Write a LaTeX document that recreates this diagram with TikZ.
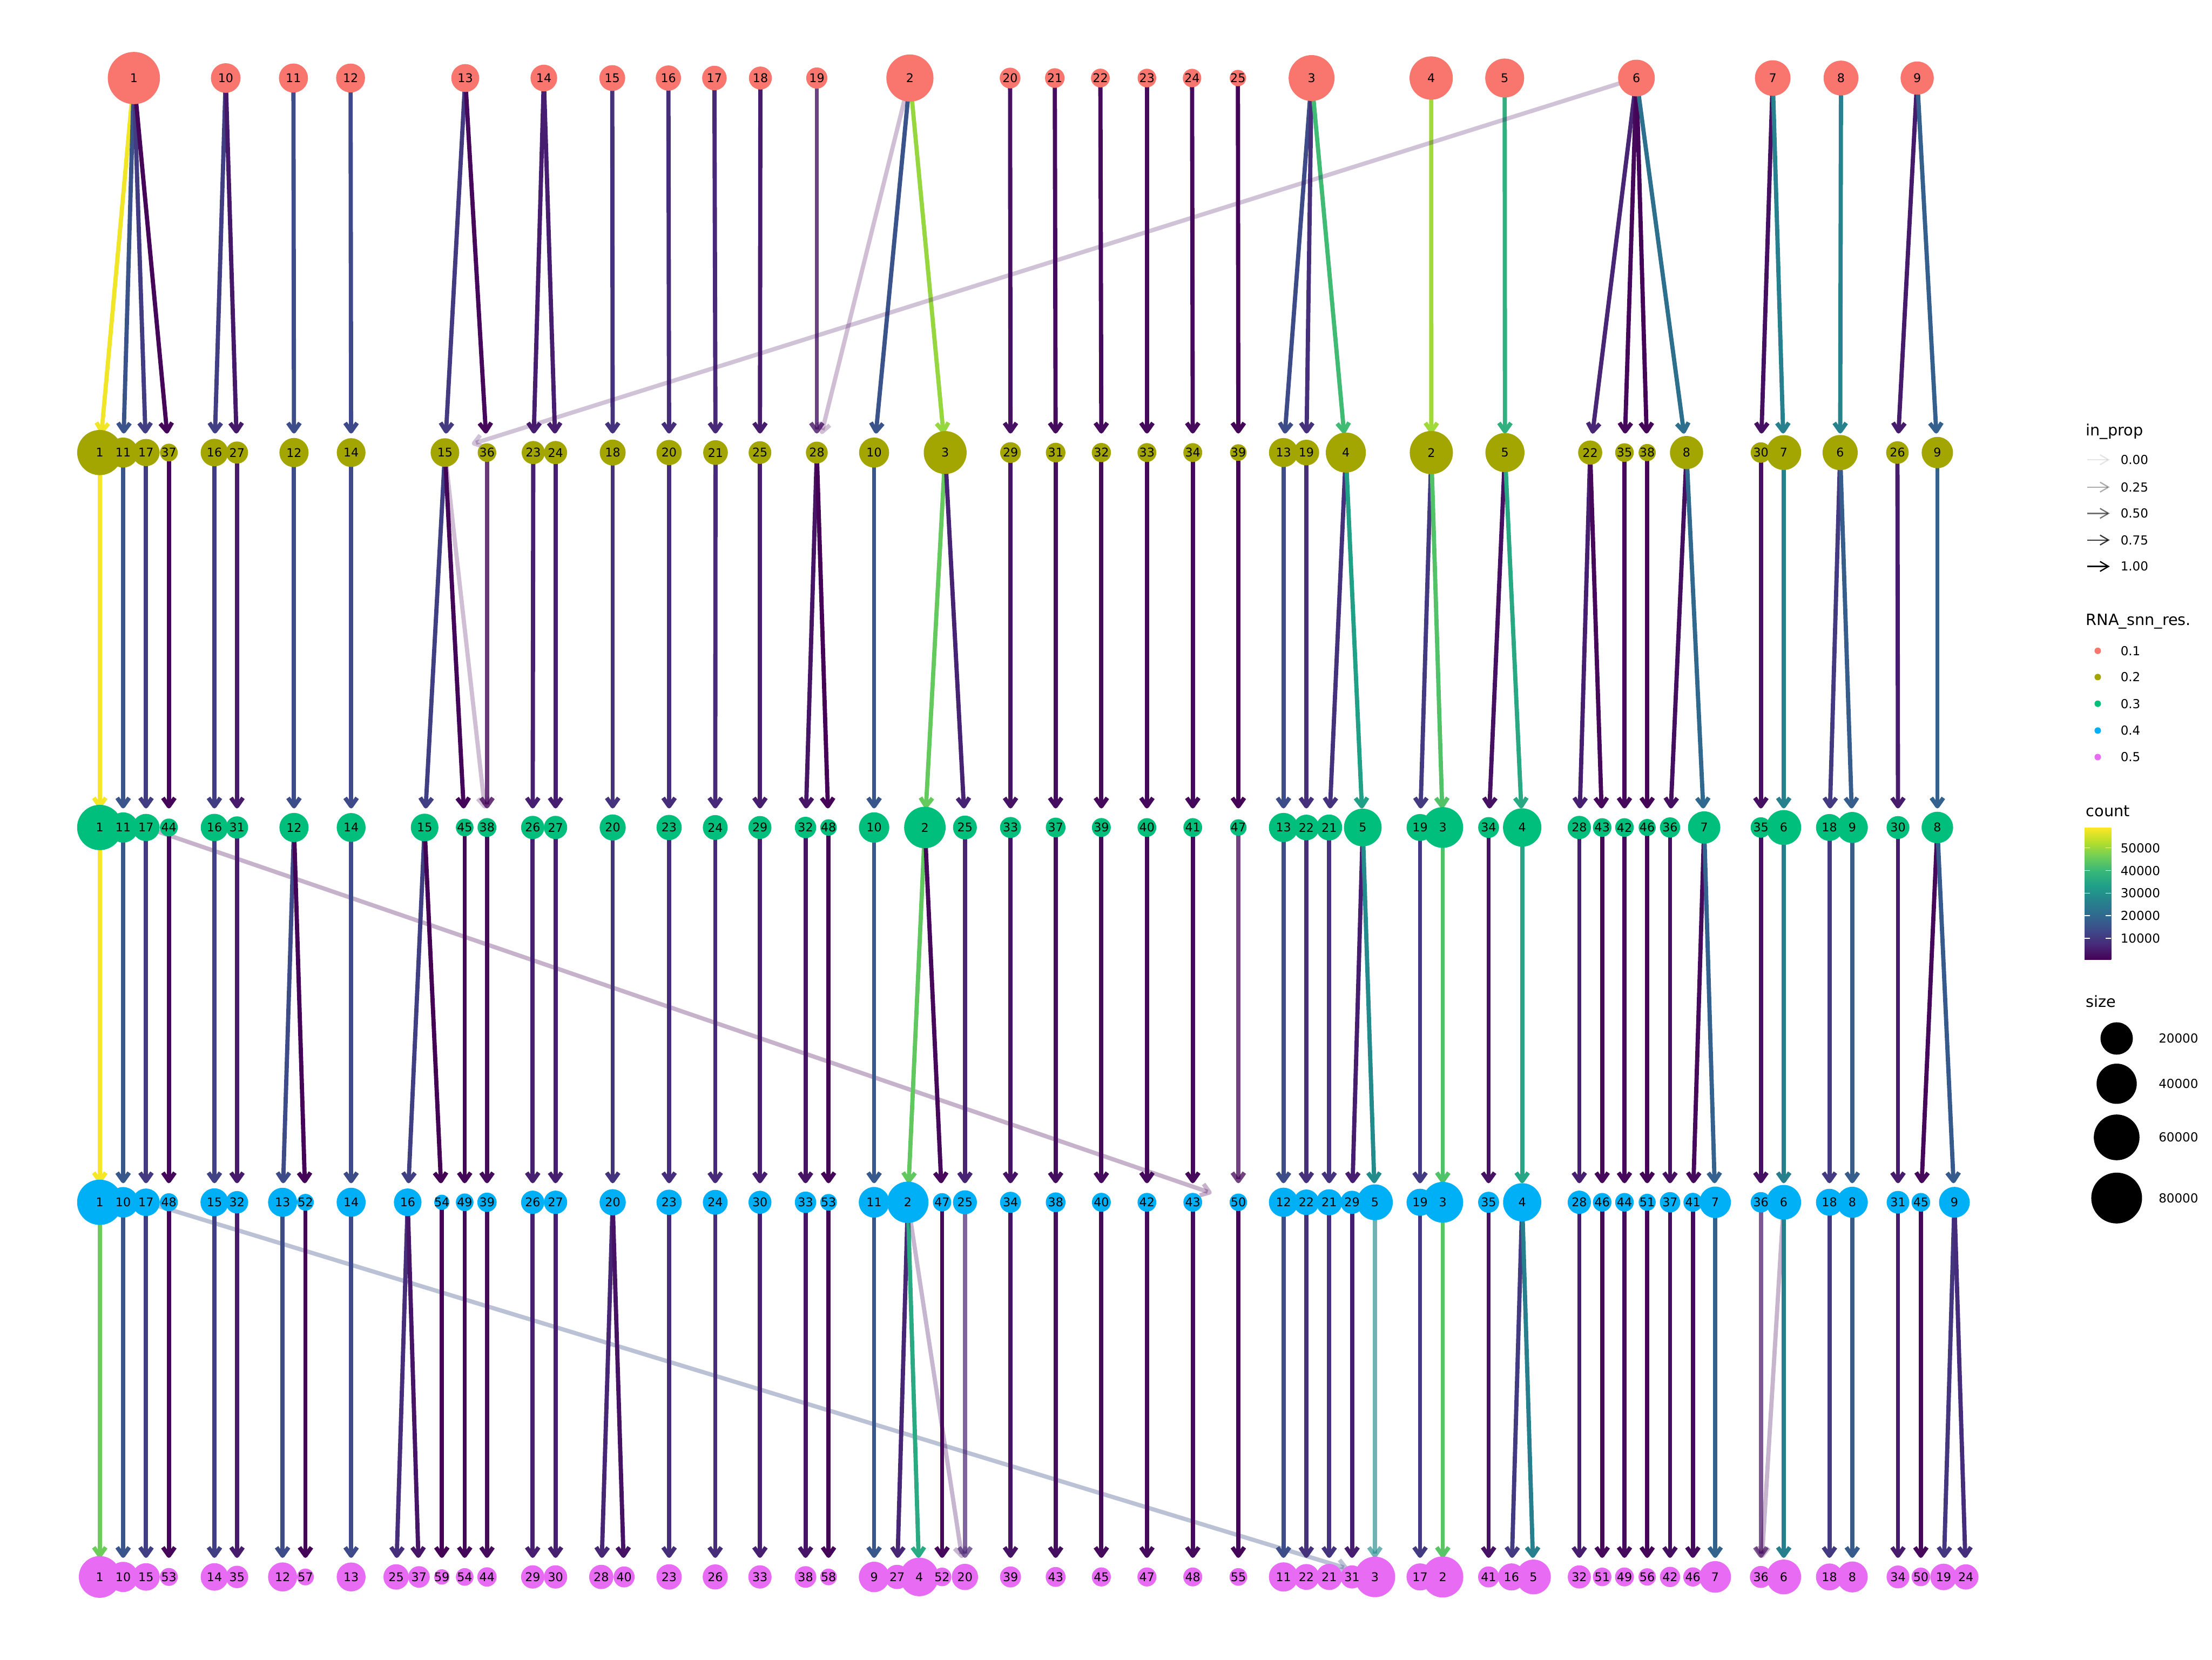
\documentclass[tikz,border=0pt]{standalone}
\usepackage{fontspec}
\setmainfont{DejaVu Sans}
\usetikzlibrary{arrows.meta}
\pgfdeclarelayer{background}
\pgfdeclarelayer{fills}
\pgfsetlayers{background,fills,main}

% viridis
\definecolor{v0}{HTML}{440154}
\definecolor{v1}{HTML}{482878}
\definecolor{v2}{HTML}{3E4A89}
\definecolor{v3}{HTML}{31688E}
\definecolor{v4}{HTML}{26828E}
\definecolor{v5}{HTML}{1F9E89}
\definecolor{v6}{HTML}{35B779}
\definecolor{v7}{HTML}{6DCD59}
\definecolor{v8}{HTML}{B4DE2C}
\definecolor{v9}{HTML}{FDE725}
% resolutions
\definecolor{res1}{HTML}{F8766D}
\definecolor{res2}{HTML}{A3A500}
\definecolor{res3}{HTML}{00BF7D}
\definecolor{res4}{HTML}{00B0F6}
\definecolor{res5}{HTML}{E76BF3}

\pgfdeclareverticalshading{viridisbar}{100bp}{color(0bp)=(v0); color(25bp)=(v0); color(30.56bp)=(v1); color(36.11bp)=(v2); color(41.67bp)=(v3); color(47.22bp)=(v4); color(52.78bp)=(v5); color(58.33bp)=(v6); color(63.89bp)=(v7); color(69.44bp)=(v8); color(75bp)=(v9); color(100bp)=(v9)}

\tikzset{
  lbl/.style={inner sep=0pt, font=\fontsize{8.5}{8.5}\selectfont},
  flow/.style={line width=3pt, -{Straight Barb[length=6pt,width=8.5pt,line join=round]}, shorten >=13.5pt},
  cnt/.style={/utils/exec={%
      \pgfmathsetmacro\vt{max(0,min(8.999,(#1-0.44)/6.4956))}%
      \pgfmathtruncatemacro\vk{\vt}%
      \pgfmathtruncatemacro\vf{round(100*(\vt-\vk))}%
      \pgfmathtruncatemacro\vn{\vk+1}%
      \colorlet{ecol}{v\vn!\vf!v\vk}},
    draw=ecol},
  ttl/.style={anchor=west, inner sep=0pt, font=\fontsize{11}{11}\selectfont},
  txt/.style={anchor=west, inner sep=0pt, font=\fontsize{8.8}{8.8}\selectfont},
  keyarrow/.style={line width=0.9pt, -{Straight Barb[length=6pt,width=7pt]}}
}

% circle on the fill layer, named label on top
\newcommand*{\cl}[6]{%
  \begin{pgfonlayer}{fills}\fill[#1] (#3,#4) circle[radius={#5pt/2}];\end{pgfonlayer}%
  \node[lbl] (#2) at (#3,#4) {#6};}

\begin{document}
\begin{tikzpicture}[x=1pt, y=-1pt]
\useasboundingbox (0,0) rectangle (1568,1176);

%Row 0.1
\cl{res1}{a1}{94.9}{55.3}{37}{1}
\cl{res1}{a10}{160}{55.3}{21}{10}
\cl{res1}{a11}{208}{55.3}{20.6}{11}
\cl{res1}{a12}{248.5}{55.3}{20.5}{12}
\cl{res1}{a13}{329.8}{55.3}{19.8}{13}
\cl{res1}{a14}{385.5}{55.3}{18.9}{14}
\cl{res1}{a15}{434}{55.3}{18.3}{15}
\cl{res1}{a16}{473.8}{55.3}{17.9}{16}
\cl{res1}{a17}{506.4}{55.3}{17.4}{17}
\cl{res1}{a18}{539}{55.3}{16.3}{18}
\cl{res1}{a19}{579}{55.3}{15}{19}
\cl{res1}{a2}{645}{55.3}{33.4}{2}
\cl{res1}{a20}{716}{55.3}{14.7}{20}
\cl{res1}{a21}{747.7}{55.3}{13.9}{21}
\cl{res1}{a22}{780}{55.3}{13.3}{22}
\cl{res1}{a23}{813}{55.3}{13.2}{23}
\cl{res1}{a24}{845}{55.3}{13.1}{24}
\cl{res1}{a25}{877.5}{55.3}{11.6}{25}
\cl{res1}{a3}{929.7}{55.3}{32.5}{3}
\cl{res1}{a4}{1014.5}{55.3}{30.7}{4}
\cl{res1}{a5}{1066.6}{55.3}{27.6}{5}
\cl{res1}{a6}{1160}{55.3}{26}{6}
\cl{res1}{a7}{1256.6}{55.3}{25.2}{7}
\cl{res1}{a8}{1305}{55.3}{24.7}{8}
\cl{res1}{a9}{1359}{55.3}{23.5}{9}

%Row 0.2
\cl{res2}{b1}{70.7}{320.7}{32}{1}
\cl{res2}{b11}{87.3}{320.7}{21.3}{11}
\cl{res2}{b17}{103.5}{320.7}{19.3}{17}
\cl{res2}{b37}{119.7}{320.7}{12.6}{37}
\cl{res2}{b16}{152}{320.7}{19.5}{16}
\cl{res2}{b27}{168}{320.7}{15.7}{27}
\cl{res2}{b12}{208.4}{320.7}{20.7}{12}
\cl{res2}{b14}{248.9}{320.7}{20.4}{14}
\cl{res2}{b15}{315.4}{320.7}{20.3}{15}
\cl{res2}{b36}{345.2}{320.7}{13.2}{36}
\cl{res2}{b23}{378}{320.7}{16.4}{23}
\cl{res2}{b24}{393.8}{320.7}{16.4}{24}
\cl{res2}{b18}{434.3}{320.7}{18.4}{18}
\cl{res2}{b20}{474.3}{320.7}{17.9}{20}
\cl{res2}{b21}{507.2}{320.7}{17.5}{21}
\cl{res2}{b25}{538.7}{320.7}{16.1}{25}
\cl{res2}{b28}{579}{320.7}{15.5}{28}
\cl{res2}{b10}{619.6}{320.7}{21.3}{10}
\cl{res2}{b3}{670}{320.7}{30.4}{3}
\cl{res2}{b29}{716.3}{320.7}{14.7}{29}
\cl{res2}{b31}{748.3}{320.7}{13.9}{31}
\cl{res2}{b32}{780.7}{320.7}{13.6}{32}
\cl{res2}{b33}{813}{320.7}{13.4}{33}
\cl{res2}{b34}{845.5}{320.7}{13.4}{34}
\cl{res2}{b39}{877.8}{320.7}{11.8}{39}
\cl{res2}{b13}{909.8}{320.7}{20.6}{13}
\cl{res2}{b19}{926}{320.7}{18.2}{19}
\cl{res2}{b4}{954}{320.7}{28.4}{4}
\cl{res2}{b2}{1014.6}{320.7}{30.6}{2}
\cl{res2}{b5}{1066.8}{320.7}{27.7}{5}
\cl{res2}{b22}{1127.2}{320.7}{17.1}{22}
\cl{res2}{b35}{1151.5}{320.7}{13.2}{35}
\cl{res2}{b38}{1167.6}{320.7}{12.2}{38}
\cl{res2}{b8}{1195.5}{320.7}{23.5}{8}
\cl{res2}{b30}{1248.2}{320.7}{14.5}{30}
\cl{res2}{b7}{1264.4}{320.7}{24.7}{7}
\cl{res2}{b6}{1304.4}{320.7}{24.9}{6}
\cl{res2}{b26}{1345}{320.7}{16}{26}
\cl{res2}{b9}{1373.3}{320.7}{22.2}{9}

%Row 0.3
\cl{res3}{c1}{70.7}{586.4}{32.1}{1}
\cl{res3}{c11}{87.3}{586.4}{21.4}{11}
\cl{res3}{c17}{103.5}{586.4}{19.3}{17}
\cl{res3}{c44}{119.7}{586.4}{12.7}{44}
\cl{res3}{c16}{152}{586.4}{19.4}{16}
\cl{res3}{c31}{168}{586.4}{15.8}{31}
\cl{res3}{c12}{208.4}{586.4}{20.7}{12}
\cl{res3}{c14}{248.9}{586.4}{20.5}{14}
\cl{res3}{c15}{301}{586.4}{19.6}{15}
\cl{res3}{c45}{329.4}{586.4}{12.5}{45}
\cl{res3}{c38}{345.2}{586.4}{13.4}{38}
\cl{res3}{c26}{377.6}{586.4}{16.5}{26}
\cl{res3}{c27}{393.8}{586.4}{16.5}{27}
\cl{res3}{c20}{434.3}{586.4}{18.5}{20}
\cl{res3}{c23}{474.3}{586.4}{17.9}{23}
\cl{res3}{c24}{507}{586.4}{17.6}{24}
\cl{res3}{c29}{538.7}{586.4}{16.3}{29}
\cl{res3}{c32}{571}{586.4}{15.2}{32}
\cl{res3}{c48}{587.3}{586.4}{11.7}{48}
\cl{res3}{c10}{619.6}{586.4}{21.5}{10}
\cl{res3}{c2}{655.6}{586.4}{29.4}{2}
\cl{res3}{c25}{684}{586.4}{16.9}{25}
\cl{res3}{c33}{716.3}{586.4}{14.9}{33}
\cl{res3}{c37}{748.3}{586.4}{14}{37}
\cl{res3}{c39}{780.7}{586.4}{13.4}{39}
\cl{res3}{c40}{813}{586.4}{13.3}{40}
\cl{res3}{c41}{845.5}{586.4}{13.3}{41}
\cl{res3}{c47}{877.8}{586.4}{11.7}{47}
\cl{res3}{c13}{909.8}{586.4}{20.7}{13}
\cl{res3}{c22}{926}{586.4}{18.2}{22}
\cl{res3}{c21}{942.2}{586.4}{18.4}{21}
\cl{res3}{c5}{966}{586.4}{26.7}{5}
\cl{res3}{c19}{1006.6}{586.4}{19.1}{19}
\cl{res3}{c3}{1022.7}{586.4}{28.9}{3}
\cl{res3}{c34}{1055.2}{586.4}{14.8}{34}
\cl{res3}{c4}{1079}{586.4}{27.2}{4}
\cl{res3}{c28}{1119.5}{586.4}{16.5}{28}
\cl{res3}{c43}{1135.7}{586.4}{13.2}{43}
\cl{res3}{c42}{1151.5}{586.4}{13.2}{42}
\cl{res3}{c46}{1167.6}{586.4}{12.1}{46}
\cl{res3}{c36}{1183.8}{586.4}{14.4}{36}
\cl{res3}{c7}{1208}{586.4}{22.9}{7}
\cl{res3}{c35}{1248.2}{586.4}{14.5}{35}
\cl{res3}{c6}{1264.4}{586.4}{24.7}{6}
\cl{res3}{c18}{1296.8}{586.4}{19.1}{18}
\cl{res3}{c9}{1313}{586.4}{22}{9}
\cl{res3}{c30}{1345.4}{586.4}{16.2}{30}
\cl{res3}{c8}{1373.3}{586.4}{22.3}{8}

%Row 0.4
\cl{res4}{d1}{70.7}{852}{32.1}{1}
\cl{res4}{d10}{87.3}{852}{21.6}{10}
\cl{res4}{d17}{103.5}{852}{19.5}{17}
\cl{res4}{d48}{119.7}{852}{12.8}{48}
\cl{res4}{d15}{152}{852}{19.8}{15}
\cl{res4}{d32}{168}{852}{15.9}{32}
\cl{res4}{d13}{200.3}{852}{20.6}{13}
\cl{res4}{d52}{216.5}{852}{11.9}{52}
\cl{res4}{d14}{248.9}{852}{20.6}{14}
\cl{res4}{d16}{289}{852}{19.6}{16}
\cl{res4}{d54}{313.2}{852}{10.8}{54}
\cl{res4}{d49}{329.4}{852}{12.5}{49}
\cl{res4}{d39}{345.2}{852}{13.7}{39}
\cl{res4}{d26}{377.6}{852}{16.5}{26}
\cl{res4}{d27}{393.8}{852}{16.5}{27}
\cl{res4}{d20}{434.3}{852}{18.6}{20}
\cl{res4}{d23}{474.3}{852}{17.9}{23}
\cl{res4}{d24}{507}{852}{17.6}{24}
\cl{res4}{d30}{538.7}{852}{16.3}{30}
\cl{res4}{d33}{571}{852}{15.2}{33}
\cl{res4}{d53}{587.3}{852}{11.8}{53}
\cl{res4}{d11}{619.6}{852}{21.7}{11}
\cl{res4}{d2}{643.5}{852}{29.3}{2}
\cl{res4}{d47}{667.8}{852}{13}{47}
\cl{res4}{d25}{684}{852}{17}{25}
\cl{res4}{d34}{716.3}{852}{14.9}{34}
\cl{res4}{d38}{748.3}{852}{14}{38}
\cl{res4}{d40}{780.7}{852}{13.4}{40}
\cl{res4}{d42}{813}{852}{13.3}{42}
\cl{res4}{d43}{845.5}{852}{13.3}{43}
\cl{res4}{d50}{877.8}{852}{12.4}{50}
\cl{res4}{d12}{909.8}{852}{20.7}{12}
\cl{res4}{d22}{926}{852}{18.1}{22}
\cl{res4}{d21}{942.2}{852}{18.5}{21}
\cl{res4}{d29}{958.4}{852}{16.4}{29}
\cl{res4}{d5}{974.6}{852}{25.4}{5}
\cl{res4}{d19}{1006.6}{852}{19.2}{19}
\cl{res4}{d3}{1022.7}{852}{28.9}{3}
\cl{res4}{d35}{1055.2}{852}{14.9}{35}
\cl{res4}{d4}{1079}{852}{27.1}{4}
\cl{res4}{d28}{1119.5}{852}{16.5}{28}
\cl{res4}{d46}{1135.7}{852}{13.2}{46}
\cl{res4}{d44}{1151.5}{852}{13.2}{44}
\cl{res4}{d51}{1167.6}{852}{12.1}{51}
\cl{res4}{d37}{1183.8}{852}{14.5}{37}
\cl{res4}{d41}{1200}{852}{13.4}{41}
\cl{res4}{d7}{1215.8}{852}{22.3}{7}
\cl{res4}{d36}{1248.2}{852}{14.5}{36}
\cl{res4}{d6}{1264.4}{852}{24.6}{6}
\cl{res4}{d18}{1296.8}{852}{19.1}{18}
\cl{res4}{d8}{1313}{852}{22}{8}
\cl{res4}{d31}{1345.4}{852}{16.1}{31}
\cl{res4}{d45}{1361.6}{852}{13.2}{45}
\cl{res4}{d9}{1385.4}{852}{21.8}{9}

%Row 0.5
\cl{res5}{e1}{70.7}{1117.5}{29.6}{1}
\cl{res5}{e10}{87.3}{1117.5}{21.4}{10}
\cl{res5}{e15}{103.5}{1117.5}{19.5}{15}
\cl{res5}{e53}{119.7}{1117.5}{12.7}{53}
\cl{res5}{e14}{152}{1117.5}{19.5}{14}
\cl{res5}{e35}{168}{1117.5}{15.9}{35}
\cl{res5}{e12}{200.3}{1117.5}{20.6}{12}
\cl{res5}{e57}{216.5}{1117.5}{11.9}{57}
\cl{res5}{e13}{248.9}{1117.5}{20.5}{13}
\cl{res5}{e25}{280.8}{1117.5}{18}{25}
\cl{res5}{e37}{297}{1117.5}{15.3}{37}
\cl{res5}{e59}{313.2}{1117.5}{10.9}{59}
\cl{res5}{e54}{329.4}{1117.5}{12.5}{54}
\cl{res5}{e44}{345.2}{1117.5}{13.7}{44}
\cl{res5}{e29}{377.6}{1117.5}{16.5}{29}
\cl{res5}{e30}{393.8}{1117.5}{16.5}{30}
\cl{res5}{e28}{426.2}{1117.5}{17.2}{28}
\cl{res5}{e40}{442.4}{1117.5}{14.9}{40}
\cl{res5}{e23}{474.3}{1117.5}{18}{23}
\cl{res5}{e26}{507}{1117.5}{17.8}{26}
\cl{res5}{e33}{538.7}{1117.5}{16.5}{33}
\cl{res5}{e38}{571}{1117.5}{15.3}{38}
\cl{res5}{e58}{587.3}{1117.5}{11.8}{58}
\cl{res5}{e9}{619.6}{1117.5}{21.6}{9}
\cl{res5}{e27}{635.9}{1117.5}{17.2}{27}
\cl{res5}{e4}{651.6}{1117.5}{27.3}{4}
\cl{res5}{e52}{667.8}{1117.5}{13.2}{52}
\cl{res5}{e20}{684}{1117.5}{18.6}{20}
\cl{res5}{e39}{716.3}{1117.5}{14.9}{39}
\cl{res5}{e43}{748.3}{1117.5}{14.1}{43}
\cl{res5}{e45}{780.7}{1117.5}{13.5}{45}
\cl{res5}{e47}{813}{1117.5}{13.5}{47}
\cl{res5}{e48}{845.5}{1117.5}{13.4}{48}
\cl{res5}{e55}{877.8}{1117.5}{12.5}{55}
\cl{res5}{e11}{909.8}{1117.5}{20.7}{11}
\cl{res5}{e22}{926}{1117.5}{18.3}{22}
\cl{res5}{e21}{942.2}{1117.5}{18.5}{21}
\cl{res5}{e31}{958.4}{1117.5}{16.4}{31}
\cl{res5}{e3}{974.6}{1117.5}{28.7}{3}
\cl{res5}{e17}{1006.6}{1117.5}{19.2}{17}
\cl{res5}{e2}{1022.7}{1117.5}{29.1}{2}
\cl{res5}{e41}{1055.2}{1117.5}{14.9}{41}
\cl{res5}{e16}{1071.4}{1117.5}{19.2}{16}
\cl{res5}{e5}{1087}{1117.5}{24.6}{5}
\cl{res5}{e32}{1119.5}{1117.5}{16.4}{32}
\cl{res5}{e51}{1135.7}{1117.5}{13.2}{51}
\cl{res5}{e49}{1151.5}{1117.5}{13.4}{49}
\cl{res5}{e56}{1167.6}{1117.5}{12.3}{56}
\cl{res5}{e42}{1183.8}{1117.5}{14.4}{42}
\cl{res5}{e46}{1200}{1117.5}{13.6}{46}
\cl{res5}{e7}{1215.8}{1117.5}{22.4}{7}
\cl{res5}{e36}{1248.2}{1117.5}{15.6}{36}
\cl{res5}{e6}{1264.4}{1117.5}{24.6}{6}
\cl{res5}{e18}{1296.8}{1117.5}{19.1}{18}
\cl{res5}{e8}{1313}{1117.5}{21.9}{8}
\cl{res5}{e34}{1345.4}{1117.5}{16.2}{34}
\cl{res5}{e50}{1361.6}{1117.5}{13.2}{50}
\cl{res5}{e19}{1377.7}{1117.5}{18.8}{19}
\cl{res5}{e24}{1393.5}{1117.5}{17.9}{24}

\begin{pgfonlayer}{background}
%0.1 to 0.2
\draw[flow, cnt=57.7] (a1.center) -- (b1.center);
\draw[flow, cnt=15.6] (a1.center) -- (b11.center);
\draw[flow, cnt=10.7] (a1.center) -- (b17.center);
\draw[flow, cnt=1.3] (a1.center) -- (b37.center);
\draw[flow, cnt=11.2] (a10.center) -- (b16.center);
\draw[flow, cnt=4.3] (a10.center) -- (b27.center);
\draw[flow, cnt=14.0] (a11.center) -- (b12.center);
\draw[flow, cnt=13.3] (a12.center) -- (b14.center);
\draw[flow, cnt=10.4] (a13.center) -- (b15.center);
\draw[flow, cnt=1.7] (a13.center) -- (b36.center);
\draw[flow, cnt=5.3] (a14.center) -- (b23.center);
\draw[flow, cnt=5.3] (a14.center) -- (b24.center);
\draw[flow, cnt=8.8] (a15.center) -- (b18.center);
\draw[flow, cnt=7.9] (a16.center) -- (b20.center);
\draw[flow, cnt=7.1] (a17.center) -- (b21.center);
\draw[flow, cnt=4.9] (a18.center) -- (b25.center);
\draw[flow, cnt=3.5, draw opacity=0.8] (a19.center) -- (b28.center);
\draw[flow, cnt=15.6] (a2.center) -- (b10.center);
\draw[flow, cnt=49.7] (a2.center) -- (b3.center);
\draw[flow, cnt=0.6, draw opacity=0.25] (a2.center) -- (b28.center);
\draw[flow, cnt=3.1] (a20.center) -- (b29.center);
\draw[flow, cnt=2.3] (a21.center) -- (b31.center);
\draw[flow, cnt=2.0] (a22.center) -- (b32.center);
\draw[flow, cnt=1.9] (a23.center) -- (b33.center);
\draw[flow, cnt=1.9] (a24.center) -- (b34.center);
\draw[flow, cnt=0.9] (a25.center) -- (b39.center);
\draw[flow, cnt=13.8] (a3.center) -- (b13.center);
\draw[flow, cnt=8.4] (a3.center) -- (b19.center);
\draw[flow, cnt=40.5] (a3.center) -- (b4.center);
\draw[flow, cnt=50.6] (a4.center) -- (b2.center);
\draw[flow, cnt=37.5] (a5.center) -- (b5.center);
\draw[flow, cnt=6.5] (a6.center) -- (b22.center);
\draw[flow, cnt=1.7] (a6.center) -- (b35.center);
\draw[flow, cnt=1.1] (a6.center) -- (b38.center);
\draw[flow, cnt=22.0] (a6.center) -- (b8.center);
\draw[flow, cnt=2.6, draw opacity=0.25, shorten >=20pt] (a6.center) -- (b15.center);
\draw[flow, cnt=2.9] (a7.center) -- (b30.center);
\draw[flow, cnt=26.0] (a7.center) -- (b7.center);
\draw[flow, cnt=26.7] (a8.center) -- (b6.center);
\draw[flow, cnt=4.75] (a9.center) -- (b26.center);
\draw[flow, cnt=18.1] (a9.center) -- (b9.center);

%0.2 to 0.3
\draw[flow, cnt=58.2] (b1.center) -- (c1.center);
\draw[flow, cnt=15.9] (b11.center) -- (c11.center);
\draw[flow, cnt=10.7] (b17.center) -- (c17.center);
\draw[flow, cnt=1.36] (b37.center) -- (c44.center);
\draw[flow, cnt=10.9] (b16.center) -- (c16.center);
\draw[flow, cnt=4.5] (b27.center) -- (c31.center);
\draw[flow, cnt=14.0] (b12.center) -- (c12.center);
\draw[flow, cnt=13.5] (b14.center) -- (c14.center);
\draw[flow, cnt=11.4] (b15.center) -- (c15.center);
\draw[flow, cnt=1.24] (b15.center) -- (c45.center);
\draw[flow, cnt=0.35, draw opacity=0.25] (b15.center) -- (c38.center);
\draw[flow, cnt=1.55, draw opacity=0.8] (b36.center) -- (c38.center);
\draw[flow, cnt=5.5] (b23.center) -- (c26.center);
\draw[flow, cnt=5.5] (b24.center) -- (c27.center);
\draw[flow, cnt=9.0] (b18.center) -- (c20.center);
\draw[flow, cnt=7.9] (b20.center) -- (c23.center);
\draw[flow, cnt=7.3] (b21.center) -- (c24.center);
\draw[flow, cnt=5.2] (b25.center) -- (c29.center);
\draw[flow, cnt=3.7] (b28.center) -- (c32.center);
\draw[flow, cnt=0.84] (b28.center) -- (c48.center);
\draw[flow, cnt=16.1] (b10.center) -- (c10.center);
\draw[flow, cnt=45.0] (b3.center) -- (c2.center);
\draw[flow, cnt=6.1] (b3.center) -- (c25.center);
\draw[flow, cnt=3.3] (b29.center) -- (c33.center);
\draw[flow, cnt=2.4] (b31.center) -- (c37.center);
\draw[flow, cnt=1.9] (b32.center) -- (c39.center);
\draw[flow, cnt=1.8] (b33.center) -- (c40.center);
\draw[flow, cnt=1.8] (b34.center) -- (c41.center);
\draw[flow, cnt=0.84] (b39.center) -- (c47.center);
\draw[flow, cnt=14.0] (b13.center) -- (c13.center);
\draw[flow, cnt=8.4] (b19.center) -- (c22.center);
\draw[flow, cnt=8.8] (b4.center) -- (c21.center);
\draw[flow, cnt=33.5] (b4.center) -- (c5.center);
\draw[flow, cnt=10.3] (b2.center) -- (c19.center);
\draw[flow, cnt=42.7] (b2.center) -- (c3.center);
\draw[flow, cnt=3.2] (b5.center) -- (c34.center);
\draw[flow, cnt=35.5] (b5.center) -- (c4.center);
\draw[flow, cnt=5.5] (b22.center) -- (c28.center);
\draw[flow, cnt=1.7] (b22.center) -- (c43.center);
\draw[flow, cnt=1.7] (b35.center) -- (c42.center);
\draw[flow, cnt=1.0] (b38.center) -- (c46.center);
\draw[flow, cnt=2.8] (b8.center) -- (c36.center);
\draw[flow, cnt=20.2] (b8.center) -- (c7.center);
\draw[flow, cnt=2.9] (b30.center) -- (c35.center);
\draw[flow, cnt=26.0] (b7.center) -- (c6.center);
\draw[flow, cnt=10.3] (b6.center) -- (c18.center);
\draw[flow, cnt=17.5] (b6.center) -- (c9.center);
\draw[flow, cnt=5.0] (b26.center) -- (c30.center);
\draw[flow, cnt=18.4] (b9.center) -- (c8.center);

%0.3 to 0.4
\draw[flow, cnt=58.2] (c1.center) -- (d1.center);
\draw[flow, cnt=16.4] (c11.center) -- (d10.center);
\draw[flow, cnt=10.4] (c17.center) -- (d17.center);
\draw[flow, cnt=0.3, draw opacity=0.3, shorten >=20pt] (c17.center) -- (d50.center);
\draw[flow, cnt=1.4] (c44.center) -- (d48.center);
\draw[flow, cnt=11.8] (c16.center) -- (d15.center);
\draw[flow, cnt=4.6] (c31.center) -- (d32.center);
\draw[flow, cnt=13.8] (c12.center) -- (d13.center);
\draw[flow, cnt=0.93] (c12.center) -- (d52.center);
\draw[flow, cnt=13.8] (c14.center) -- (d14.center);
\draw[flow, cnt=11.4] (c15.center) -- (d16.center);
\draw[flow, cnt=0.58] (c15.center) -- (d54.center);
\draw[flow, cnt=1.24] (c45.center) -- (d49.center);
\draw[flow, cnt=2.1] (c38.center) -- (d39.center);
\draw[flow, cnt=5.5] (c26.center) -- (d26.center);
\draw[flow, cnt=5.5] (c27.center) -- (d27.center);
\draw[flow, cnt=9.2] (c20.center) -- (d20.center);
\draw[flow, cnt=7.9] (c23.center) -- (d23.center);
\draw[flow, cnt=7.3] (c24.center) -- (d24.center);
\draw[flow, cnt=5.2] (c29.center) -- (d30.center);
\draw[flow, cnt=3.7] (c32.center) -- (d33.center);
\draw[flow, cnt=0.88] (c48.center) -- (d53.center);
\draw[flow, cnt=16.7] (c10.center) -- (d11.center);
\draw[flow, cnt=44.5] (c2.center) -- (d2.center);
\draw[flow, cnt=1.56] (c2.center) -- (d47.center);
\draw[flow, cnt=6.3] (c25.center) -- (d25.center);
\draw[flow, cnt=3.3] (c33.center) -- (d34.center);
\draw[flow, cnt=2.4] (c37.center) -- (d38.center);
\draw[flow, cnt=1.9] (c39.center) -- (d40.center);
\draw[flow, cnt=1.8] (c40.center) -- (d42.center);
\draw[flow, cnt=1.8] (c41.center) -- (d43.center);
\draw[flow, cnt=0.9, draw opacity=0.75] (c47.center) -- (d50.center);
\draw[flow, cnt=14.0] (c13.center) -- (d12.center);
\draw[flow, cnt=8.25] (c22.center) -- (d22.center);
\draw[flow, cnt=9.0] (c21.center) -- (d21.center);
\draw[flow, cnt=5.3] (c5.center) -- (d29.center);
\draw[flow, cnt=28.5] (c5.center) -- (d5.center);
\draw[flow, cnt=10.5] (c19.center) -- (d19.center);
\draw[flow, cnt=42.7] (c3.center) -- (d3.center);
\draw[flow, cnt=3.3] (c34.center) -- (d35.center);
\draw[flow, cnt=35.0] (c4.center) -- (d4.center);
\draw[flow, cnt=5.5] (c28.center) -- (d28.center);
\draw[flow, cnt=1.7] (c43.center) -- (d46.center);
\draw[flow, cnt=1.7] (c42.center) -- (d44.center);
\draw[flow, cnt=1.0] (c46.center) -- (d51.center);
\draw[flow, cnt=2.9] (c36.center) -- (d37.center);
\draw[flow, cnt=1.9] (c7.center) -- (d41.center);
\draw[flow, cnt=18.4] (c7.center) -- (d7.center);
\draw[flow, cnt=2.9] (c35.center) -- (d36.center);
\draw[flow, cnt=25.7] (c6.center) -- (d6.center);
\draw[flow, cnt=10.3] (c18.center) -- (d18.center);
\draw[flow, cnt=17.5] (c9.center) -- (d8.center);
\draw[flow, cnt=4.9] (c30.center) -- (d31.center);
\draw[flow, cnt=1.7] (c8.center) -- (d45.center);
\draw[flow, cnt=16.95] (c8.center) -- (d9.center);

%0.4 to 0.5
\draw[flow, cnt=45.9] (d1.center) -- (e1.center);
\draw[flow, cnt=15.9] (d10.center) -- (e10.center);
\draw[flow, cnt=11.2] (d17.center) -- (e15.center);
\draw[flow, cnt=14.5, draw opacity=0.35, shorten >=20pt] (d17.center) -- (e3.center);
\draw[flow, cnt=1.36] (d48.center) -- (e53.center);
\draw[flow, cnt=11.2] (d15.center) -- (e14.center);
\draw[flow, cnt=4.6] (d32.center) -- (e35.center);
\draw[flow, cnt=13.8] (d13.center) -- (e12.center);
\draw[flow, cnt=0.93] (d52.center) -- (e57.center);
\draw[flow, cnt=13.5] (d14.center) -- (e13.center);
\draw[flow, cnt=8.06] (d16.center) -- (e25.center);
\draw[flow, cnt=3.8] (d16.center) -- (e37.center);
\draw[flow, cnt=0.6] (d54.center) -- (e59.center);
\draw[flow, cnt=1.24] (d49.center) -- (e54.center);
\draw[flow, cnt=2.1] (d39.center) -- (e44.center);
\draw[flow, cnt=5.5] (d26.center) -- (e29.center);
\draw[flow, cnt=5.5] (d27.center) -- (e30.center);
\draw[flow, cnt=6.6] (d20.center) -- (e28.center);
\draw[flow, cnt=3.3] (d20.center) -- (e40.center);
\draw[flow, cnt=8.06] (d23.center) -- (e23.center);
\draw[flow, cnt=7.7] (d24.center) -- (e26.center);
\draw[flow, cnt=5.5] (d30.center) -- (e33.center);
\draw[flow, cnt=3.8] (d33.center) -- (e38.center);
\draw[flow, cnt=0.88] (d53.center) -- (e58.center);
\draw[flow, cnt=16.4] (d11.center) -- (e9.center);
\draw[flow, cnt=6.6] (d2.center) -- (e27.center);
\draw[flow, cnt=35.9] (d2.center) -- (e4.center);
\draw[flow, cnt=2.5, draw opacity=0.3] (d2.center) -- (e20.center);
\draw[flow, cnt=1.7] (d47.center) -- (e52.center);
\draw[flow, cnt=6.3, draw opacity=0.7] (d25.center) -- (e20.center);
\draw[flow, cnt=3.3] (d34.center) -- (e39.center);
\draw[flow, cnt=2.5] (d38.center) -- (e43.center);
\draw[flow, cnt=1.95] (d40.center) -- (e45.center);
\draw[flow, cnt=1.95] (d42.center) -- (e47.center);
\draw[flow, cnt=1.9] (d43.center) -- (e48.center);
\draw[flow, cnt=1.24] (d50.center) -- (e55.center);
\draw[flow, cnt=14.0] (d12.center) -- (e11.center);
\draw[flow, cnt=8.6] (d22.center) -- (e22.center);
\draw[flow, cnt=9.0] (d21.center) -- (e21.center);
\draw[flow, cnt=5.3] (d29.center) -- (e31.center);
\draw[flow, cnt=28.5, draw opacity=0.65] (d5.center) -- (e3.center);
\draw[flow, cnt=10.5] (d19.center) -- (e17.center);
\draw[flow, cnt=43.6] (d3.center) -- (e2.center);
\draw[flow, cnt=3.3] (d35.center) -- (e41.center);
\draw[flow, cnt=10.5] (d4.center) -- (e16.center);
\draw[flow, cnt=25.7] (d4.center) -- (e5.center);
\draw[flow, cnt=5.3] (d28.center) -- (e32.center);
\draw[flow, cnt=1.7] (d46.center) -- (e51.center);
\draw[flow, cnt=1.9] (d44.center) -- (e49.center);
\draw[flow, cnt=1.1] (d51.center) -- (e56.center);
\draw[flow, cnt=2.8] (d37.center) -- (e42.center);
\draw[flow, cnt=2.0] (d41.center) -- (e46.center);
\draw[flow, cnt=18.7] (d7.center) -- (e7.center);
\draw[flow, cnt=2.9, draw opacity=0.7] (d36.center) -- (e36.center);
\draw[flow, cnt=1.3, draw opacity=0.3] (d6.center) -- (e36.center);
\draw[flow, cnt=25.7] (d6.center) -- (e6.center);
\draw[flow, cnt=10.3] (d18.center) -- (e18.center);
\draw[flow, cnt=17.2] (d8.center) -- (e8.center);
\draw[flow, cnt=5.0] (d31.center) -- (e34.center);
\draw[flow, cnt=1.7] (d45.center) -- (e50.center);
\draw[flow, cnt=9.65] (d9.center) -- (e19.center);
\draw[flow, cnt=7.9] (d9.center) -- (e24.center);
\end{pgfonlayer}

%Legend: in_prop
\node[ttl] (lgprop) at (1478.5,306) {in\_prop};
\draw[keyarrow, draw opacity=0.1] (1479.5,325.8) -- (1495.5,325.8);
\draw[keyarrow, draw opacity=0.325] (1479.5,345.2) -- (1495.5,345.2);
\draw[keyarrow, draw opacity=0.55] (1479.5,363.8) -- (1495.5,363.8);
\draw[keyarrow, draw opacity=0.775] (1479.5,382.7) -- (1495.5,382.7);
\draw[keyarrow] (1479.5,401.4) -- (1495.5,401.4);
\node[txt] (lgp0) at (1503,325.8) {0.00};
\node[txt] (lgp1) at (1503,345.2) {0.25};
\node[txt] (lgp2) at (1503,363.8) {0.50};
\node[txt] (lgp3) at (1503,382.7) {0.75};
\node[txt] (lgp4) at (1503,401.4) {1.00};

%Legend: resolution
\node[ttl] (lgres) at (1478.5,440.3) {RNA\_snn\_res.};
\fill[res1] (1487,461.2) circle[radius=2.3pt];
\fill[res2] (1487,479.8) circle[radius=2.3pt];
\fill[res3] (1487,498.7) circle[radius=2.3pt];
\fill[res4] (1487,517.7) circle[radius=2.3pt];
\fill[res5] (1487,536.5) circle[radius=2.3pt];
\node[txt] (lgr1) at (1503,461.2) {0.1};
\node[txt] (lgr2) at (1503,479.8) {0.2};
\node[txt] (lgr3) at (1503,498.7) {0.3};
\node[txt] (lgr4) at (1503,517.7) {0.4};
\node[txt] (lgr5) at (1503,536.5) {0.5};

%Legend: count
\node[ttl] (lgcount) at (1478.5,574.9) {count};
\shade[shading=viridisbar] (1477.7,586.6) rectangle (1496.5,680.2);
\draw[white, line width=0.5pt] (1477.7,600.9) -- (1481.5,600.9) (1496.5,600.9) -- (1492.7,600.9);
\draw[white, line width=0.5pt] (1477.7,617) -- (1481.5,617) (1496.5,617) -- (1492.7,617);
\draw[white, line width=0.5pt] (1477.7,633) -- (1481.5,633) (1496.5,633) -- (1492.7,633);
\draw[white, line width=0.5pt] (1477.7,648.8) -- (1481.5,648.8) (1496.5,648.8) -- (1492.7,648.8);
\draw[white, line width=0.5pt] (1477.7,664.9) -- (1481.5,664.9) (1496.5,664.9) -- (1492.7,664.9);
\node[txt] (lgc5) at (1503,600.9) {50000};
\node[txt] (lgc4) at (1503,617) {40000};
\node[txt] (lgc3) at (1503,633) {30000};
\node[txt] (lgc2) at (1503,648.8) {20000};
\node[txt] (lgc1) at (1503,664.9) {10000};

%Legend: size
\node[ttl] (lgsize) at (1478.5,709.7) {size};
\fill (1500.4,735.9) circle[radius=11.45pt];
\fill (1500.4,768) circle[radius=14.25pt];
\fill (1500.4,806) circle[radius=16.2pt];
\fill (1500.4,849) circle[radius=18pt];
\node[txt] (lgs1) at (1530,735.9) {20000};
\node[txt] (lgs2) at (1530,768) {40000};
\node[txt] (lgs3) at (1530,806) {60000};
\node[txt] (lgs4) at (1530,849) {80000};
\end{tikzpicture}
\end{document}
